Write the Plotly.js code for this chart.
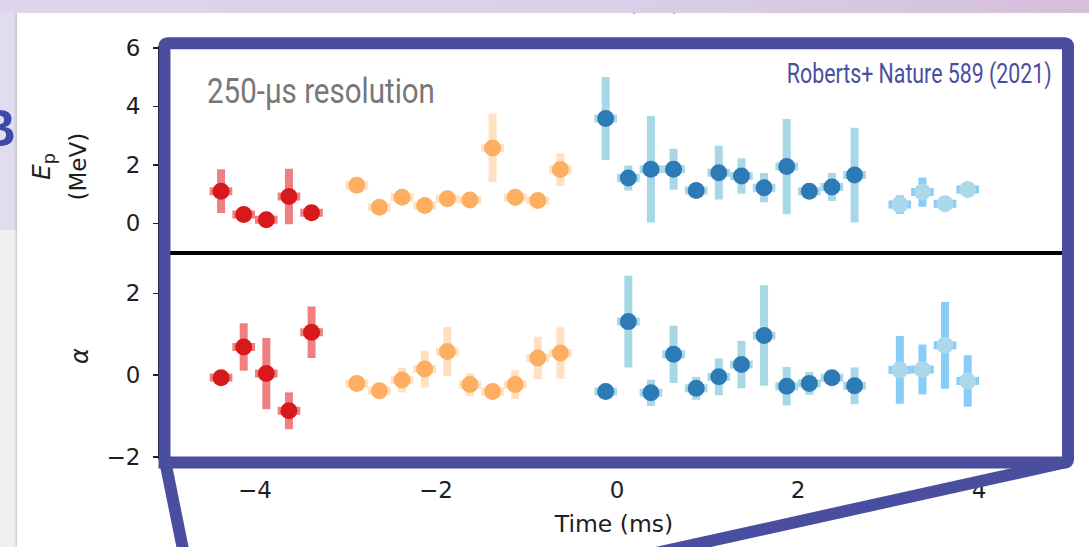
<!DOCTYPE html>
<html>
<head>
<meta charset="utf-8">
<script src="https://cdn.plot.ly/plotly-3.0.1.min.js"></script>
<style>
  html, body { margin: 0; padding: 0; }
  body { width: 1089px; height: 547px; overflow: hidden; position: relative; background: #efeff2; font-family: "DejaVu Sans", sans-serif; }
  #side { position: absolute; left: 0; top: 0; width: 40px; height: 230px; background: #e1ddef; }
  #letters { position: absolute; left: -21px; top: 103px; font: bold 51px "Liberation Sans", Arial, sans-serif; color: #3c4aa8; line-height: 1; white-space: nowrap; }
  #panel { position: absolute; left: 17px; top: 13px; right: 0; bottom: 0; background: #fff; box-shadow: -1px 0 3px rgba(0,0,0,0.18); }
  #peek { position: absolute; left: 628px; top: -8px; font-size: 23px; line-height: 1; color: #333; }
  #strip { position: absolute; left: 0; top: 0; width: 1089px; height: 13px; background: linear-gradient(to right, #ddd6ec 0%, #dad0e8 55%, #d5bfdb 100%); }
  #chart { position: absolute; left: 0; top: 0; width: 1089px; height: 547px; }
</style>
</head>
<body>
<div id="side"></div>
<div id="letters">BA</div>
<div id="panel"></div>
<div id="peek">(ms)</div>
<div id="strip"></div>
<div id="chart"></div>
<script>
// Bin centres (ms) of the 250-µs time bins, one list per burst phase
const binHalfWidth = 0.125;
const timeRed    = [-4.375, -4.125, -3.875, -3.625, -3.375];
const timeOrange = [-2.875, -2.625, -2.375, -2.125, -1.875, -1.625, -1.375, -1.125, -0.875, -0.625];
const timeBlue   = [-0.125, 0.125, 0.375, 0.625, 0.875, 1.125, 1.375, 1.625, 1.875, 2.125, 2.375, 2.625];
const timeLight  = [3.125, 3.375, 3.625, 3.875];

// Peak energy E_p (MeV) and 1-sigma errors
const epRed       = [1.10, 0.30, 0.12, 0.92, 0.36];
const epRedErr    = [0.75, 0.15, 0.15, 0.95, 0.15];
const epOrange    = [1.30, 0.55, 0.89, 0.61, 0.84, 0.80, 2.58, 0.89, 0.78, 1.84];
const epOrangeErr = [0.15, 0.15, 0.15, 0.15, 0.15, 0.15, 1.17, 0.28, 0.15, 0.56];
const epBlue      = [3.59, 1.55, 1.85, 1.85, 1.12, 1.73, 1.62, 1.22, 1.94, 1.10, 1.24, 1.65];
const epBlueErr   = [1.42, 0.43, 1.82, 0.70, 0.15, 0.92, 0.61, 0.50, 1.63, 0.15, 0.48, 1.62];
const epLight     = [0.64, 1.07, 0.67, 1.16];
const epLightErr  = [0.32, 0.50, 0.18, 0.18];

// Low-energy power-law index alpha and 1-sigma errors
const alphaRed       = [-0.06, 0.69, 0.04, -0.87, 1.05];
const alphaRedErr    = [0.12, 0.58, 0.87, 0.45, 0.63];
const alphaOrange    = [-0.20, -0.38, -0.12, 0.15, 0.58, -0.23, -0.40, -0.23, 0.42, 0.54];
const alphaOrangeErr = [0.12, 0.12, 0.30, 0.45, 0.60, 0.28, 0.12, 0.35, 0.52, 0.63];
const alphaBlue      = [-0.40, 1.31, -0.43, 0.51, -0.32, -0.04, 0.26, 0.97, -0.27, -0.20, -0.06, -0.26];
const alphaBlueErr   = [0.12, 1.12, 0.32, 0.70, 0.28, 0.45, 0.58, 1.23, 0.47, 0.28, 0.15, 0.45];
const alphaLight     = [0.13, 0.14, 0.73, -0.14];
const alphaLightErr  = [0.83, 0.61, 1.06, 0.63];

const xTicks  = [-4, -2, 0, 2, 4];
const epTicks = [0, 2, 4, 6];
const alphaTicks = [-2, 0, 2];

// Marker / error-bar colours per phase
const palette = {
  red:    { dot: '#d7191c', bar: '#f08080' },
  orange: { dot: '#fdae61', bar: '#ffe0c0' },
  blue:   { dot: '#2c7bb6', bar: '#a8d8e6' },
  light:  { dot: '#abd9e9', bar: '#87cdf8' }
};
const frameColor = '#4a4e9e';

function series(t, v, e, c, xa, ya) {
  return {
    type: 'scatter', mode: 'markers', x: t, y: v, xaxis: xa, yaxis: ya,
    marker: { size: 17, color: c.dot, line: { width: 0 } },
    error_y: { type: 'data', array: e, visible: true, color: c.bar, thickness: 8, width: 0 },
    error_x: { type: 'constant', value: binHalfWidth, visible: true, color: c.bar, thickness: 8, width: 0 },
    hoverinfo: 'skip', showlegend: false
  };
}

const data = [
  series(timeRed,    epRed,    epRedErr,    palette.red,    'x2', 'y'),
  series(timeOrange, epOrange, epOrangeErr, palette.orange, 'x2', 'y'),
  series(timeBlue,   epBlue,   epBlueErr,   palette.blue,   'x2', 'y'),
  series(timeLight,  epLight,  epLightErr,  palette.light,  'x2', 'y'),
  series(timeRed,    alphaRed,    alphaRedErr,    palette.red,    'x', 'y2'),
  series(timeOrange, alphaOrange, alphaOrangeErr, palette.orange, 'x', 'y2'),
  series(timeBlue,   alphaBlue,   alphaBlueErr,   palette.blue,   'x', 'y2'),
  series(timeLight,  alphaLight,  alphaLightErr,  palette.light,  'x', 'y2')
];

// Plot-area geometry in pixels, used to place the frame and labels
const M = { l: 160, r: 21, t: 48, b: 90 };
const W = 1089, H = 547;
const PW = W - M.l - M.r, PH = H - M.t - M.b;
const X = p => (p - M.l) / PW;
const Y = p => (H - M.b - p) / PH;
const path = pts => pts.map((p, i) => (i ? 'L' : 'M') + X(p[0]).toFixed(5) + ',' + Y(p[1]).toFixed(5)).join(' ');

const fl = 164.5, ft = 43.3, fr = 1068, fb = 462.5, rc = 3;
const framePath =
  'M' + X(fl) + ',' + Y(fb) +
  ' L' + X(fl) + ',' + Y(ft + rc) +
  ' Q' + X(fl) + ',' + Y(ft) + ' ' + X(fl + rc) + ',' + Y(ft) +
  ' L' + X(fr - rc) + ',' + Y(ft) +
  ' Q' + X(fr) + ',' + Y(ft) + ' ' + X(fr) + ',' + Y(ft + rc) +
  ' L' + X(fr) + ',' + Y(fb - rc) +
  ' Q' + X(fr) + ',' + Y(fb) + ' ' + X(fr - rc) + ',' + Y(fb) +
  ' Z';

const axisCommon = {
  showline: true, linecolor: '#000', linewidth: 2, mirror: true,
  showgrid: false, zeroline: false,
  ticks: 'outside', ticklen: 5, tickwidth: 1.5, tickcolor: '#1e1e1e'
};

const layout = {
  width: W, height: H, margin: M,
  paper_bgcolor: 'rgba(0,0,0,0)', plot_bgcolor: 'rgba(0,0,0,0)',
  font: { family: '"DejaVu Sans", sans-serif', size: 23, color: '#1e1e1e' },
  showlegend: false,
  xaxis: Object.assign({}, axisCommon, {
    anchor: 'y2', domain: [0, 1], range: [-5.0497, 4.9834], tickvals: xTicks,
    ticklabelstandoff: 6,
    title: { text: 'Time (ms)', standoff: 14, font: { size: 23.5 } }
  }),
  xaxis2: Object.assign({}, axisCommon, {
    anchor: 'y', matches: 'x', showticklabels: false, ticks: ''
  }),
  yaxis: Object.assign({}, axisCommon, {
    anchor: 'x2', domain: [0.5, 1], range: [-1, 6], tickvals: epTicks, ticklabelstandoff: 8
  }),
  yaxis2: Object.assign({}, axisCommon, {
    anchor: 'x', domain: [0, 0.5], range: [-2, 3], tickvals: alphaTicks, ticklabelstandoff: 8
  }),
  shapes: [
    { type: 'path', xref: 'paper', yref: 'paper', layer: 'above', path: framePath,
      line: { color: frameColor, width: 12 } },
    { type: 'path', xref: 'paper', yref: 'paper', layer: 'above',
      path: path([[164.5, 458], [183.5, 552]]), line: { color: frameColor, width: 12 } },
    { type: 'path', xref: 'paper', yref: 'paper', layer: 'above',
      path: path([[1067, 462], [656, 553]]), line: { color: frameColor, width: 12 } }
  ],
  annotations: [
    { xref: 'paper', yref: 'paper', x: X(43), y: Y(167), xanchor: 'center', yanchor: 'middle',
      showarrow: false, textangle: -90, text: '<i>E</i><sub>p</sub>', font: { size: 25, color: '#1e1e1e' } },
    { xref: 'paper', yref: 'paper', x: X(77), y: Y(166.5), xanchor: 'center', yanchor: 'middle',
      showarrow: false, textangle: -90, text: '(MeV)', font: { size: 23, color: '#1e1e1e' } },
    { xref: 'paper', yref: 'paper', x: X(80), y: Y(356), xanchor: 'center', yanchor: 'middle',
      showarrow: false, textangle: -90, text: '<i>α</i>', font: { size: 24, color: '#1e1e1e' } },
    { xref: 'paper', yref: 'paper', x: X(205), y: Y(91), xanchor: 'left', align: 'left', yanchor: 'middle',
      showarrow: false, text: '250-μs resolution', font: { family: 'Roboto, sans-serif', size: 35, color: '#777777' } },
    { xref: 'paper', yref: 'paper', x: X(1054), y: Y(73), xanchor: 'right', align: 'right', yanchor: 'middle',
      showarrow: false, text: 'Roberts+ Nature 589 (2021)', font: { family: 'Roboto, sans-serif', size: 28, color: frameColor } }
  ]
};

// Condensed widths (px) for the two headline labels
const condensed = { '250-μs resolution': 228, 'Roberts+ Nature 589 (2021)': 265 };

Plotly.newPlot('chart', data, layout, { staticPlot: true, displayModeBar: false }).then(gd => {
  gd.querySelectorAll('.annotation-text').forEach(el => {
    const w = condensed[el.textContent];
    if (!w) return;
    const natural = el.getComputedTextLength();
    const a = el.getAttribute('text-anchor');
    const origin = a === 'end' ? 'right' : (a === 'middle' ? 'center' : 'left');
    el.style.transformBox = 'fill-box';
    el.style.transformOrigin = origin + ' center';
    el.style.transform = 'scaleX(' + (w / natural).toFixed(4) + ')';
  });
});
</script>
</body>
</html>
